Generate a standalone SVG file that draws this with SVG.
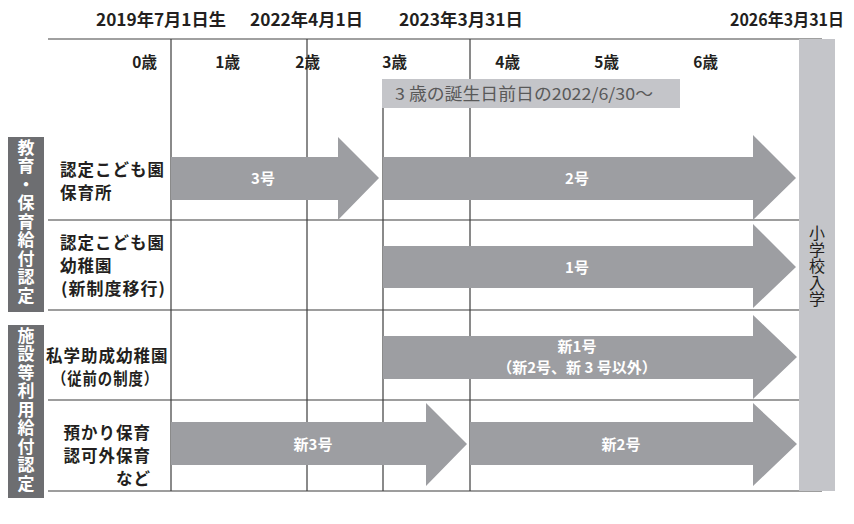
<svg xmlns="http://www.w3.org/2000/svg" width="854" height="524" viewBox="0 0 854 524">
<style>
text{font-family:"Noto Sans CJK JP","Noto Sans",sans-serif;}
.hd{font-size:16.5px;font-weight:bold;fill:#231f20;}
.age{font-size:15.5px;font-weight:bold;fill:#231f20;}
.lbl{font-size:16.5px;font-weight:bold;fill:#231f20;letter-spacing:1px;}
.cat{font-size:17px;font-weight:bold;fill:#ffffff;writing-mode:vertical-rl;letter-spacing:1.5px;}
.arr{fill:#9d9ea2;}
.at{font-size:15px;font-weight:bold;fill:#ffffff;text-anchor:middle;}
.ln{stroke:#3c3c3c;stroke-width:1.2;fill:none;}
</style>
<rect width="854" height="524" fill="#ffffff"/>
<g id="header">
<text class="hd" x="96" y="26" textLength="130" lengthAdjust="spacingAndGlyphs">2019年7月1日生</text>
<text class="hd" x="250" y="26" textLength="113" lengthAdjust="spacingAndGlyphs">2022年4月1日</text>
<text class="hd" x="399" y="26" textLength="124" lengthAdjust="spacingAndGlyphs">2023年3月31日</text>
<text class="hd" x="730" y="26" textLength="114" lengthAdjust="spacingAndGlyphs">2026年3月31日</text>
</g>
<g id="grid">
<line x1="48" y1="39" x2="822" y2="39" stroke="#808080" stroke-width="1.5"/>
<line class="ln" x1="171" y1="39" x2="171" y2="491"/>
<line class="ln" x1="307" y1="39" x2="307" y2="491"/>
<line class="ln" x1="383" y1="108" x2="383" y2="491"/>
<line class="ln" x1="470" y1="39" x2="470" y2="491"/>
<line class="ln" x1="48" y1="220" x2="799" y2="220"/>
<line class="ln" x1="48" y1="310" x2="799" y2="310"/>
<line class="ln" x1="48" y1="400" x2="799" y2="400"/>
<line class="ln" x1="48" y1="491" x2="822" y2="491"/>
</g>
<g id="ages">
<text class="age" x="157" y="68" text-anchor="end">0歳</text>
<text class="age" x="240" y="68" text-anchor="end">1歳</text>
<text class="age" x="320" y="68" text-anchor="end">2歳</text>
<text class="age" x="407" y="68" text-anchor="end">3歳</text>
<text class="age" x="520" y="68" text-anchor="end">4歳</text>
<text class="age" x="619" y="68" text-anchor="end">5歳</text>
<text class="age" x="718" y="68" text-anchor="end">6歳</text>
</g>
<g id="note">
<rect x="382" y="79" width="298" height="29" fill="#c4c5c9"/>
<text x="395" y="100" font-size="16.5" fill="#595959" textLength="258" lengthAdjust="spacingAndGlyphs">3 歳の誕生日前日の2022/6/30～</text>
</g>
<g id="school">
<rect x="799" y="39" width="36" height="452" fill="#c4c5c9"/>
<text x="817" y="225" font-size="16" fill="#231f20" writing-mode="vertical-rl" letter-spacing="0.5">小学校入学</text>
</g>
<g id="cat1">
<rect x="8" y="137" width="36" height="175" fill="#6d6e71"/>
<text class="cat" x="26" y="139">教育・保育給付認定</text>
</g>
<g id="cat2">
<rect x="8" y="325" width="36" height="173" fill="#6d6e71"/>
<text class="cat" x="26" y="327">施設等利用給付認定</text>
</g>
<g id="row1">
<text class="lbl" x="60" y="176">認定こども園</text>
<text class="lbl" x="60" y="199">保育所</text>
</g>
<g id="row2">
<text class="lbl" x="60" y="249">認定こども園</text>
<text class="lbl" x="60" y="272">幼稚園</text>
<text class="lbl" x="61" y="295" textLength="105" lengthAdjust="spacingAndGlyphs">(新制度移行)</text>
</g>
<g id="row3">
<text class="lbl" x="46" y="362">私学助成幼稚園</text>
<text class="lbl" x="52" y="385" textLength="107" lengthAdjust="spacingAndGlyphs">（従前の制度）</text>
</g>
<g id="row4">
<text class="lbl" x="151" y="439" text-anchor="end">預かり保育</text>
<text class="lbl" x="151" y="462" text-anchor="end">認可外保育</text>
<text class="lbl" x="151" y="485" text-anchor="end">など</text>
</g>
<g id="arrows">
<g id="a3"><polygon class="arr" points="171,157 338,157 338,137 379,178 338,220 338,200 171,200"/><text class="at" x="263" y="184">3号</text></g>
<g id="a2"><polygon class="arr" points="383,157 753,157 753,135 796,178 753,220 753,200 383,200"/><text class="at" x="577" y="184">2号</text></g>
<g id="a1"><polygon class="arr" points="383,246 753,246 753,224 796,267 753,308 753,288 383,288"/><text class="at" x="577" y="273">1号</text></g>
<g id="an1"><polygon class="arr" points="383,336 753,336 753,315 797,357 753,399 753,379 383,379"/><text class="at" x="577" y="352">新1号</text><text class="at" x="577" y="373">（新2号、新 3 号以外）</text></g>
<g id="an3"><polygon class="arr" points="171,422 426,422 426,403 467,444 426,486 426,465 171,465"/><text class="at" x="313" y="450">新3号</text></g>
<g id="an2"><polygon class="arr" points="470,422 753,422 753,403 797,444 753,486 753,465 470,465"/><text class="at" x="621" y="450">新2号</text></g>
</g>
</svg>
